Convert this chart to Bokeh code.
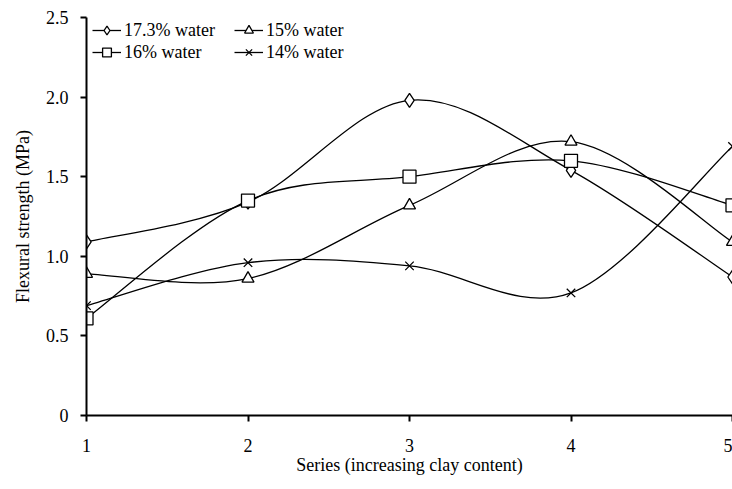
import numpy as np
from bokeh.plotting import figure
from bokeh.models import Range1d, FixedTicker, Legend, LegendItem
from bokeh.embed import file_html
from bokeh.resources import INLINE

series = [1, 2, 3, 4, 5]
water_173 = [1.09, 1.34, 1.98, 1.54, 0.87]
water_15 = [0.89, 0.86, 1.32, 1.72, 1.09]
water_16 = [0.61, 1.35, 1.50, 1.60, 1.32]
water_14 = [0.69, 0.96, 0.94, 0.77, 1.69]
labels = ["17.3% water", "15% water", "16% water", "14% water"]
markers = ["diamond", "triangle", "square", "x"]
y_ticks = [0, 0.5, 1.0, 1.5, 2.0, 2.5]

FONT = "Liberation Serif"

p = figure(width=732, height=489, output_backend="svg", toolbar_location=None,
           x_range=Range1d(1, 5), y_range=Range1d(0, 2.5),
           min_border_left=86, min_border_right=0, min_border_top=17, min_border_bottom=74)
p.outline_line_color = None
p.xgrid.visible = False
p.ygrid.visible = False
p.background_fill_color = "white"


def smooth_segments(xs, ys):
    x = np.asarray(xs, float)
    y = np.asarray(ys, float)
    n = len(x)
    xp = np.concatenate([[x[0]], x, [x[-1]]])
    yp = np.concatenate([[y[0]], y, [y[-1]]])
    d = dict(x0=[], y0=[], x1=[], y1=[], cx0=[], cy0=[], cx1=[], cy1=[])
    for i in range(n - 1):
        j = i + 1
        d["x0"].append(x[i]); d["y0"].append(y[i])
        d["x1"].append(x[i + 1]); d["y1"].append(y[i + 1])
        d["cx0"].append(x[i] + (xp[j + 1] - xp[j - 1]) / 6)
        d["cy0"].append(y[i] + (yp[j + 1] - yp[j - 1]) / 6)
        d["cx1"].append(x[i + 1] - (xp[j + 2] - xp[j]) / 6)
        d["cy1"].append(y[i + 1] - (yp[j + 2] - yp[j]) / 6)
    return d


items = {}
sizes = {"diamond": 14, "triangle": 12, "square": 13, "x": 12}
for vals, lab, mk in zip([water_173, water_15, water_16, water_14], labels, markers):
    seg = smooth_segments(series, vals)
    p.bezier(x0=seg["x0"], y0=seg["y0"], x1=seg["x1"], y1=seg["y1"],
             cx0=seg["cx0"], cy0=seg["cy0"], cx1=seg["cx1"], cy1=seg["cy1"],
             line_color="black", line_width=1.3)
    ln = p.line([-10, -9], [-10, -9], line_color="black", line_width=1.3)
    sc = p.scatter(series, vals, marker=mk, size=sizes[mk], fill_color="white",
                   line_color="black", line_width=1.3)
    items[lab] = LegendItem(label=lab, renderers=[ln, sc])

# column-major fill: order so rows read 17.3 / 15, then 16 / 14
legend = Legend(items=[items[labels[0]], items[labels[2]], items[labels[1]], items[labels[3]]],
                ncols=2,
                border_line_color=None, background_fill_alpha=0,
                label_text_font=FONT, label_text_font_size="18px", label_text_color="black",
                glyph_width=29, glyph_height=22, spacing=0, padding=0,
                margin=0, label_standoff=3, label_height=18, label_width=110)
legend.location = (6, 352)
p.add_layout(legend)

for ax in (p.xaxis[0], p.yaxis[0]):
    ax.axis_line_width = 2
    ax.axis_line_color = "black"
    ax.major_tick_line_width = 2
    ax.major_tick_line_color = "black"
    ax.major_tick_out = 6
    ax.major_tick_in = 0
    ax.minor_tick_line_color = None
    ax.major_label_text_font = FONT
    ax.major_label_text_font_size = "18px"
    ax.major_label_text_color = "black"
    ax.axis_label_text_font = FONT
    ax.axis_label_text_font_size = "18px"
    ax.axis_label_text_font_style = "normal"
    ax.axis_label_text_color = "black"

p.xaxis.ticker = FixedTicker(ticks=series)
p.yaxis.ticker = FixedTicker(ticks=y_ticks)
p.yaxis.major_label_overrides = {0: "0", 0.5: "0.5", 1: "1.0", 1.5: "1.5", 2: "2.0", 2.5: "2.5"}
p.xaxis.axis_label = "Series (increasing clay content)"
p.yaxis.axis_label = "Flexural strength (MPa)"
p.xaxis.major_label_standoff = 17
p.yaxis.major_label_standoff = 12
p.xaxis.axis_label_standoff = 0
p.yaxis.axis_label_standoff = 10

open("out.html", "w").write(file_html(p, INLINE))
